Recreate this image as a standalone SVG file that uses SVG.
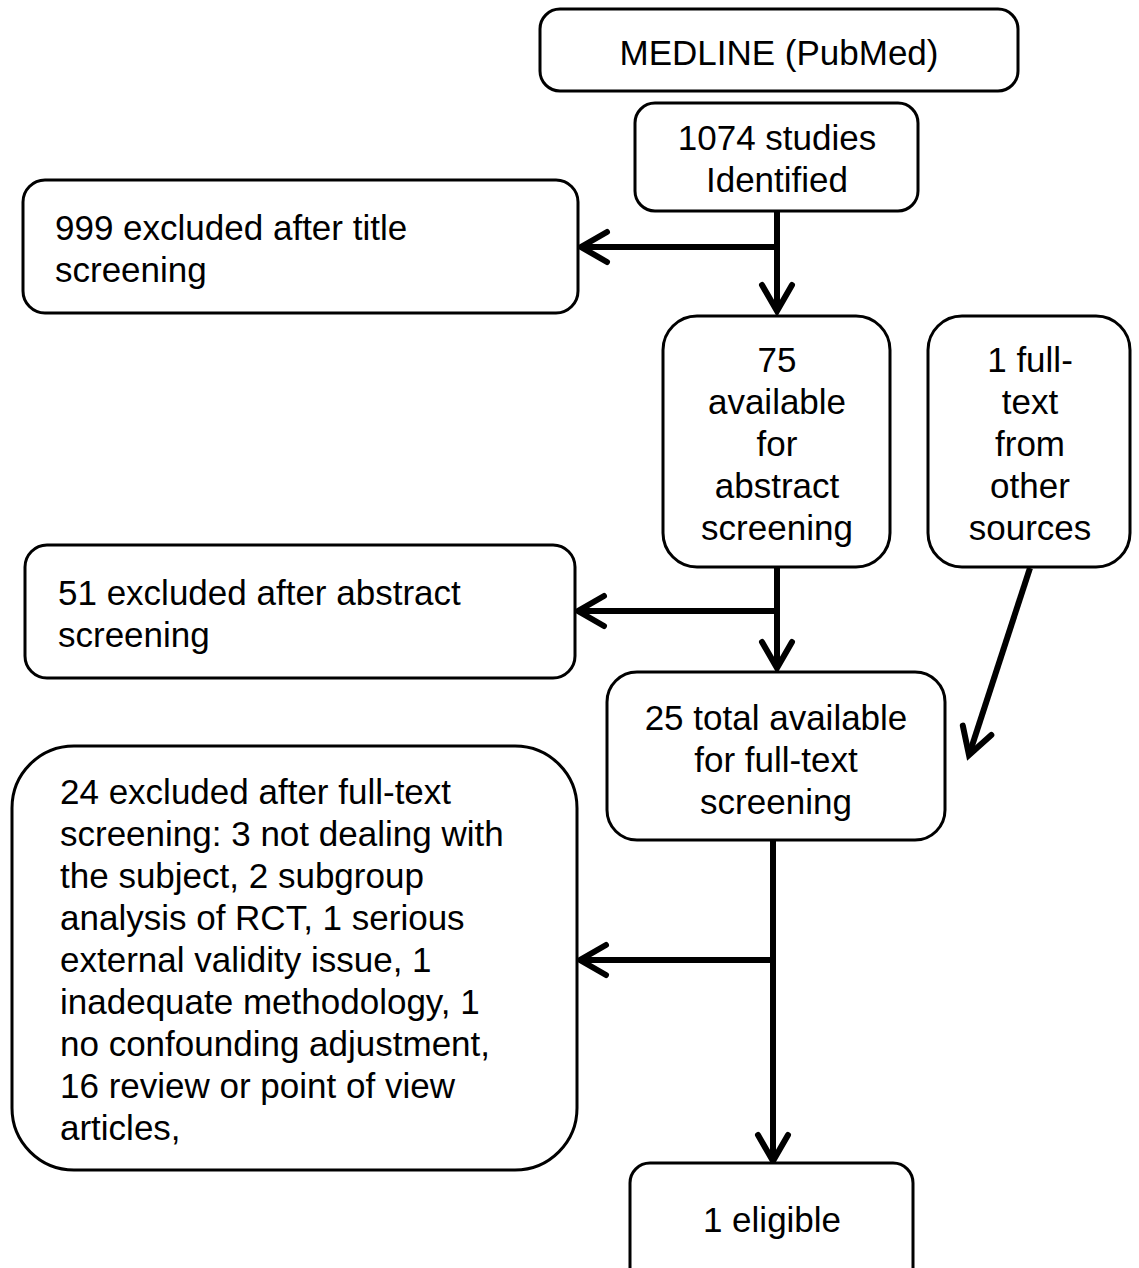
<svg xmlns="http://www.w3.org/2000/svg" width="1139" height="1268" viewBox="0 0 1139 1268">
<style>
.box{fill:#fff;stroke:#000;stroke-width:3}
.t{font-family:"Liberation Sans",Arial,sans-serif;font-size:35px;fill:#000}
.c{text-anchor:middle}
.ln{fill:none;stroke:#000;stroke-width:6}
</style>
<defs>
<marker id="ah" markerUnits="userSpaceOnUse" markerWidth="40" markerHeight="40" viewBox="-32 -20 40 40" refX="0" refY="0" orient="auto" overflow="visible">
<path d="M-26,-15 L0,0 L-26,15" fill="none" stroke="#000" stroke-width="6" stroke-linecap="round" stroke-linejoin="miter"/>
</marker>
</defs>
<rect width="1139" height="1268" fill="#fff"/>
<g id="connectors">
<line class="ln" x1="777" y1="211" x2="777" y2="311" marker-end="url(#ah)"/>
<line class="ln" x1="777" y1="247" x2="581" y2="247" marker-end="url(#ah)"/>
<line class="ln" x1="777" y1="567" x2="777" y2="668" marker-end="url(#ah)"/>
<line class="ln" x1="777" y1="611" x2="578" y2="611" marker-end="url(#ah)"/>
<line class="ln" x1="773" y1="840" x2="773" y2="1161" marker-end="url(#ah)"/>
<line class="ln" x1="773" y1="960" x2="580" y2="960" marker-end="url(#ah)"/>
<line class="ln" x1="1030" y1="568" x2="969" y2="755" marker-end="url(#ah)"/>
</g>
<g id="medline">
<rect class="box" x="540" y="9" width="478" height="82" rx="20"/>
<text class="t c" x="779" y="65">MEDLINE (PubMed)</text>
</g>
<g id="identified">
<rect class="box" x="635" y="103" width="283" height="108" rx="20"/>
<text class="t c" x="777" y="150">1074 studies</text>
<text class="t c" x="777" y="192">Identified</text>
</g>
<g id="excl-title">
<rect class="box" x="23" y="180" width="555" height="133" rx="22"/>
<text class="t" x="55" y="240">999 excluded after title</text>
<text class="t" x="55" y="282">screening</text>
</g>
<g id="abstract">
<rect class="box" x="663" y="316" width="227" height="251" rx="34"/>
<text class="t c" x="777" y="372">75</text>
<text class="t c" x="777" y="414">available</text>
<text class="t c" x="777" y="456">for</text>
<text class="t c" x="777" y="498">abstract</text>
<text class="t c" x="777" y="540">screening</text>
</g>
<g id="other">
<rect class="box" x="928" y="316" width="202" height="251" rx="34"/>
<text class="t c" x="1030" y="372">1 full-</text>
<text class="t c" x="1030" y="414">text</text>
<text class="t c" x="1030" y="456">from</text>
<text class="t c" x="1030" y="498">other</text>
<text class="t c" x="1030" y="540">sources</text>
</g>
<g id="excl-abstract">
<rect class="box" x="25" y="545" width="550" height="133" rx="22"/>
<text class="t" x="58" y="605">51 excluded after abstract</text>
<text class="t" x="58" y="647">screening</text>
</g>
<g id="fulltext">
<rect class="box" x="607" y="672" width="338" height="168" rx="30"/>
<text class="t c" x="776" y="730">25 total available</text>
<text class="t c" x="776" y="772">for full-text</text>
<text class="t c" x="776" y="814">screening</text>
</g>
<g id="excl-fulltext">
<rect class="box" x="12" y="746" width="565" height="424" rx="62"/>
<text class="t" x="60" y="804">24 excluded after full-text</text>
<text class="t" x="60" y="846">screening: 3 not dealing with</text>
<text class="t" x="60" y="888">the subject, 2 subgroup</text>
<text class="t" x="60" y="930">analysis of RCT, 1 serious</text>
<text class="t" x="60" y="972">external validity issue, 1</text>
<text class="t" x="60" y="1014">inadequate methodology, 1</text>
<text class="t" x="60" y="1056">no confounding adjustment,</text>
<text class="t" x="60" y="1098">16 review or point of view</text>
<text class="t" x="60" y="1140">articles,</text>
</g>
<g id="eligible">
<rect class="box" x="630" y="1163" width="283" height="125" rx="20"/>
<text class="t c" x="772" y="1232">1 eligible</text>
</g>
</svg>
